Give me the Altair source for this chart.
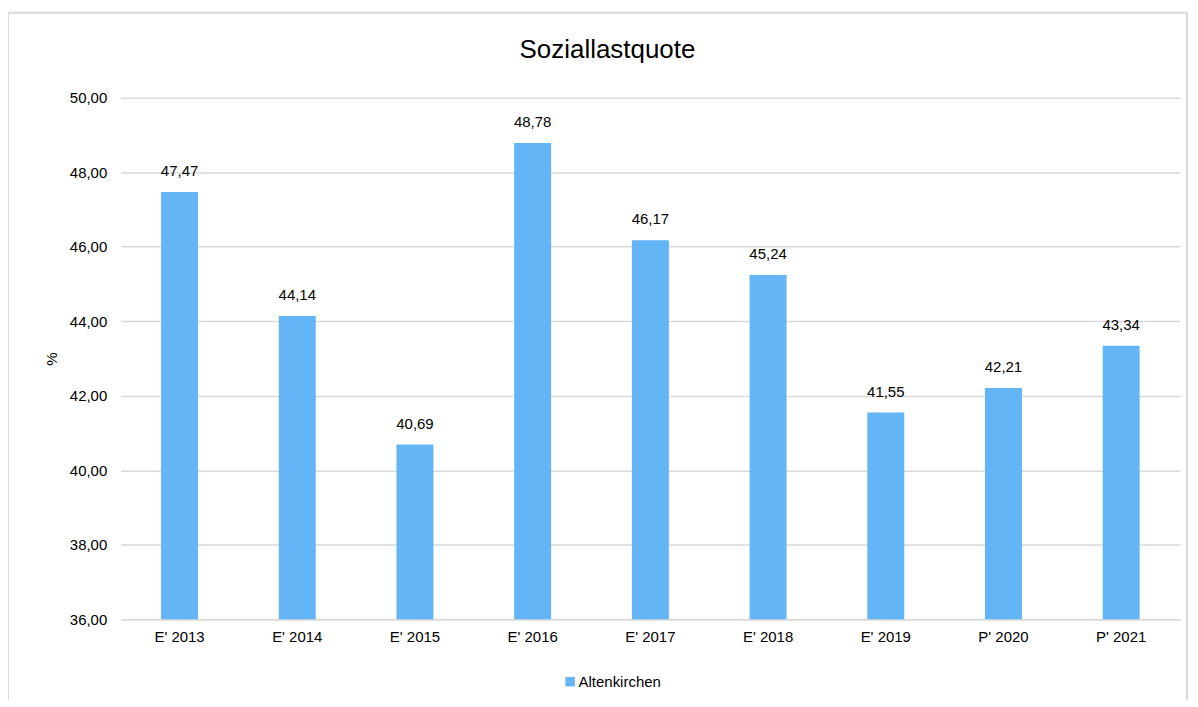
import altair as alt
import pandas as pd

categories = ["E' 2013", "E' 2014", "E' 2015", "E' 2016", "E' 2017", "E' 2018", "E' 2019", "P' 2020", "P' 2021"]
values = [47.47, 44.14, 40.69, 48.78, 46.17, 45.24, 41.55, 42.21, 43.34]
series = ["Altenkirchen"] * len(categories)

df = pd.DataFrame({"cat": categories, "val": values, "series": series})

FONT = "Liberation Sans"
BAR = "#63B5F5"
GRID = "#D9D9D9"
FS = 15

x = alt.X("cat:N", sort=categories, title=None,
          scale=alt.Scale(paddingInner=0.686, paddingOuter=0.343),
          axis=alt.Axis(labelAngle=0, labelFontSize=FS, labelColor="#000000", labelFont=FONT,
                        ticks=False, domainColor=GRID, domainWidth=1.5, labelPadding=10, grid=False))
y = alt.Y("val:Q", title="%",
          scale=alt.Scale(domain=[36, 50], nice=False, zero=False),
          axis=alt.Axis(values=[36, 38, 40, 42, 44, 46, 48, 50],
                        labelExpr="replace(format(datum.value, '.2f'), '.', ',')",
                        labelFontSize=FS, labelColor="#000000", labelFont=FONT, labelPadding=14,
                        ticks=False, domain=False, gridColor=GRID, gridWidth=1.5,
                        titleFontSize=FS, titleFont=FONT, titleFontWeight="normal", titleColor="#000000",
                        titlePadding=10))

bars = alt.Chart(df).mark_bar(clip=True).encode(
    x=x, y=y,
    color=alt.Color("series:N", scale=alt.Scale(range=[BAR]),
                    legend=alt.Legend(orient="none", legendX=443, legendY=578, title=None,
                                      symbolType="square", symbolSize=90, symbolStrokeWidth=0,
                                      labelFontSize=FS, labelFont=FONT, labelColor="#000000",
                                      labelOffset=1, padding=0))
)

labels = alt.Chart(df).transform_calculate(
    lbl="replace(format(datum.val, '.2f'), '.', ',')"
).mark_text(dy=-13, fontSize=FS, font=FONT, color="#000000", baseline="bottom").encode(
    x=alt.X("cat:N", sort=categories), y="val:Q", text="lbl:N"
)

title = alt.Chart(df).transform_filter("datum.cat == \"E' 2013\"").mark_text(
    fontSize=26, font=FONT, color="#000000", baseline="middle", align="center"
).encode(x=alt.value(488), y=alt.value(-48), text=alt.value("Soziallastquote"))

border = alt.Chart(df).transform_filter("datum.cat == \"E' 2013\"").mark_rect(
    fill=None, stroke=GRID, strokeWidth=2
).encode(x=alt.value(-113), x2=alt.value(1069), y=alt.value(-85), y2=alt.value(612))

chart = alt.layer(border, bars, labels, title).properties(
    width=1062, height=523,
    background="white",
    autosize=alt.AutoSizeParams(type="none"),
    padding={"left": 113, "top": 89, "right": 10, "bottom": 80},
).configure_view(strokeWidth=0, stroke="transparent")

chart.save("out.html", embed_options={"renderer": "svg", "actions": False})
